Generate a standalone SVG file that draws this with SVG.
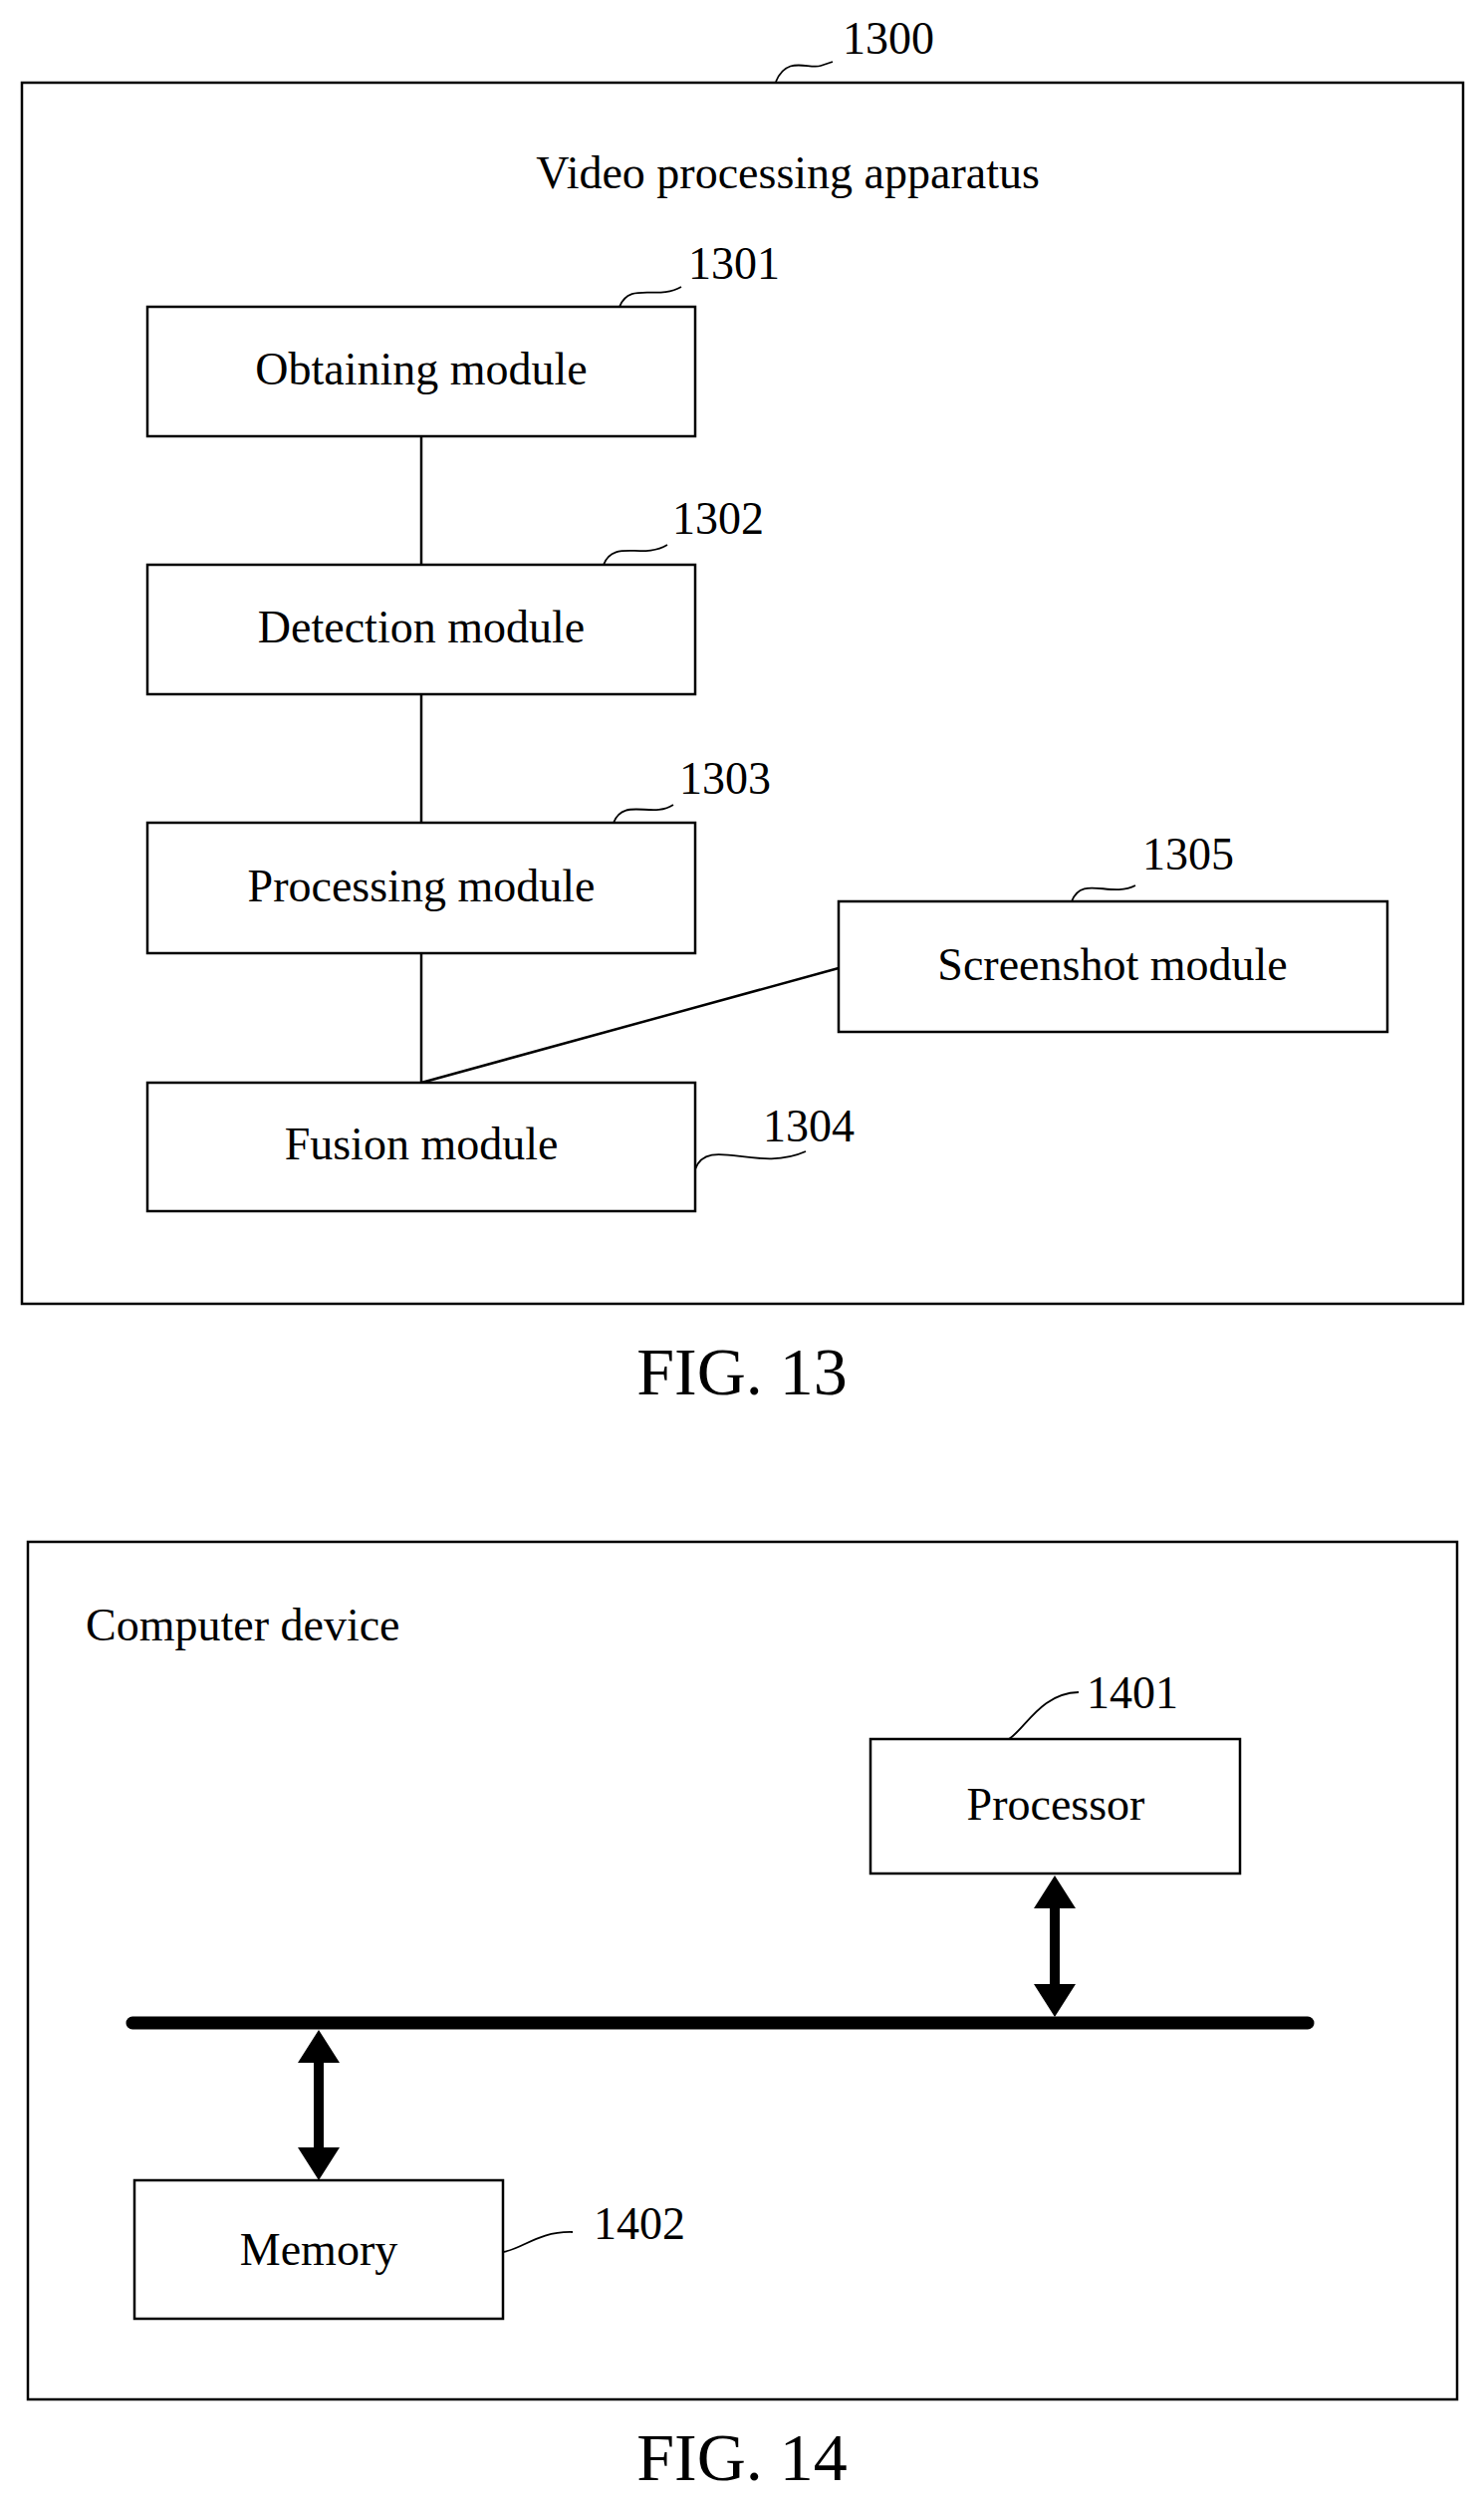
<svg xmlns="http://www.w3.org/2000/svg" width="1490" height="2512" viewBox="0 0 1490 2512">
<style>
.box{fill:#fff;stroke:#000;stroke-width:2.5}
.ln{fill:none;stroke:#000;stroke-width:2.5}
.sq{fill:none;stroke:#000;stroke-width:1.8}
text{font-family:"Liberation Serif","Times New Roman",serif;font-size:46px;fill:#000}
.c{text-anchor:middle}
.fig{font-size:68px}
</style>
<rect width="1490" height="2512" fill="#fff"/>
<g id="apparatus">
<rect class="box" x="22" y="83" width="1447" height="1226"/>
<text class="c" x="791" y="189">Video processing apparatus</text>
<path class="sq" d="M779,82 C790,55 812,70 824,66 C830,64 833,63 836,62"/>
<text x="846" y="54">1300</text>
</g>
<g id="connectors">
<line class="ln" x1="423" y1="438" x2="423" y2="567"/>
<line class="ln" x1="423" y1="697" x2="423" y2="826"/>
<line class="ln" x1="423" y1="957" x2="423" y2="1087"/>
<line class="ln" x1="423" y1="1087" x2="842" y2="972"/>
</g>
<g id="n1301">
<rect class="box" x="148" y="308" width="550" height="130"/>
<text class="c" x="423" y="386">Obtaining module</text>
<path class="sq" d="M622,308 C632,282 660,302 684,288"/>
<text x="691" y="280">1301</text>
</g>
<g id="n1302">
<rect class="box" x="148" y="567" width="550" height="130"/>
<text class="c" x="423" y="645">Detection module</text>
<path class="sq" d="M606,567 C616,541 645,562 670,547"/>
<text x="675" y="536">1302</text>
</g>
<g id="n1303">
<rect class="box" x="148" y="826" width="550" height="131"/>
<text class="c" x="423" y="905">Processing module</text>
<path class="sq" d="M616,826 C626,800 655,822 676,808"/>
<text x="682" y="797">1303</text>
</g>
<g id="n1304">
<rect class="box" x="148" y="1087" width="550" height="129"/>
<text class="c" x="423" y="1164">Fusion module</text>
<path class="sq" d="M698,1174 C710,1140 760,1178 809,1156"/>
<text x="766" y="1146">1304</text>
</g>
<g id="n1305">
<rect class="box" x="842" y="905" width="551" height="131"/>
<text class="c" x="1117" y="984">Screenshot module</text>
<path class="sq" d="M1076,905 C1086,878 1115,902 1140,889"/>
<text x="1147" y="873">1305</text>
</g>
<text class="c fig" x="745" y="1400">FIG. 13</text>

<g id="device">
<rect class="box" x="28" y="1548" width="1435" height="861"/>
<text x="86" y="1647">Computer device</text>
</g>
<g id="n1401">
<rect class="box" x="874" y="1746" width="371" height="135"/>
<text class="c" x="1060" y="1827">Processor</text>
<path class="sq" d="M1013,1746 C1030,1735 1045,1700 1083,1699"/>
<text x="1091" y="1715">1401</text>
</g>
<g id="n1402">
<rect class="box" x="135" y="2189" width="370" height="139"/>
<text class="c" x="320" y="2274">Memory</text>
<path class="sq" d="M505,2261 C525,2258 540,2240 575,2241"/>
<text x="596" y="2248">1402</text>
</g>
<g id="bus">
<line x1="133" y1="2031" x2="1313" y2="2031" stroke="#000" stroke-width="13" stroke-linecap="round"/>
<polygon points="1059,1883 1080,1916 1064,1916 1064,1992 1080,1992 1059,2025 1038,1992 1054,1992 1054,1916 1038,1916" fill="#000"/>
<polygon points="320,2038 341,2071 325,2071 325,2156 341,2156 320,2189 299,2156 315,2156 315,2071 299,2071" fill="#000"/>
</g>
<text class="c fig" x="745" y="2490">FIG. 14</text>
</svg>
